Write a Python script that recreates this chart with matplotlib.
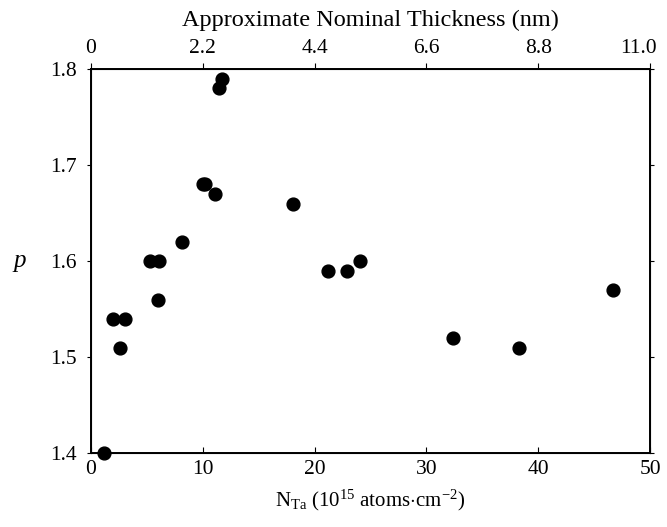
import matplotlib
matplotlib.use("Agg")
import matplotlib.pyplot as plt
import matplotlib.transforms as mtrans

# data
n_ta = [1.2, 2.0, 3.1, 2.6, 5.3, 6.1, 6.0, 8.2, 10.0, 10.2, 11.1, 11.5, 11.7,
        18.1, 21.2, 22.9, 24.1, 32.4, 38.3, 46.7]
p_vals = [1.40, 1.54, 1.54, 1.51, 1.60, 1.60, 1.56, 1.62, 1.68, 1.68, 1.67, 1.78, 1.79,
          1.66, 1.59, 1.59, 1.60, 1.52, 1.51, 1.57]

x_ticks = [0, 10, 20, 30, 40, 50]
y_ticks = [1.4, 1.5, 1.6, 1.7, 1.8]
top_ticks = [0, 2.2, 4.4, 6.6, 8.8, 11.0]
top_labels = ["0", "2.2", "4.4", "6.6", "8.8", "11.0"]

plt.rcParams['font.family'] = ['Liberation Serif', 'DejaVu Serif']
plt.rcParams['mathtext.fontset'] = 'custom'
plt.rcParams['mathtext.rm'] = 'Liberation Serif'
plt.rcParams['mathtext.it'] = 'Liberation Serif:italic'

fig = plt.figure(figsize=(6.67, 5.27), dpi=100)
ax = fig.add_axes([0.136, 0.140, 0.839, 0.729])

ax.scatter(n_ta, p_vals, s=85, color='black', zorder=3, clip_on=False)

ax.set_xlim(0, 50)
ax.set_ylim(1.4, 1.8)
ax.set_xticks(x_ticks)
ax.set_xticklabels([str(t) for t in x_ticks])
ax.set_yticks(y_ticks)
ax.set_yticklabels([f"{t:.1f}" for t in y_ticks])
ax.tick_params(axis='x', direction='in', length=4, labelsize=15.5, pad=5)
ax.tick_params(axis='y', direction='out', length=3, labelsize=15.5, pad=7,
               right=True)
for s in ax.spines.values():
    s.set_linewidth(1.4)

ax.set_xlabel(r"N$_{\mathrm{Ta}}$ (10$^{15}$ atoms$\cdot$cm$^{-2}$)", fontsize=15, labelpad=6)
ax.set_ylabel("p", fontsize=18, style='italic', rotation=0, labelpad=22, va='center')

top = ax.twiny()
top.set_xlim(0, 11.0)
top.set_xticks(top_ticks)
top.set_xticklabels(top_labels)
top.tick_params(axis='x', direction='out', length=4, labelsize=15.5, pad=4)
top.set_xlabel("Approximate Nominal Thickness (nm)", fontsize=17.5, labelpad=9)

# last top label sits a little left of its tick, as in the original
last = top.get_xticklabels()[-1]
last.set_horizontalalignment('right')
last.set_transform(last.get_transform() +
                   mtrans.ScaledTranslation(6 / 100, 0, fig.dpi_scale_trans))

fig.savefig("out.png", dpi=100)
